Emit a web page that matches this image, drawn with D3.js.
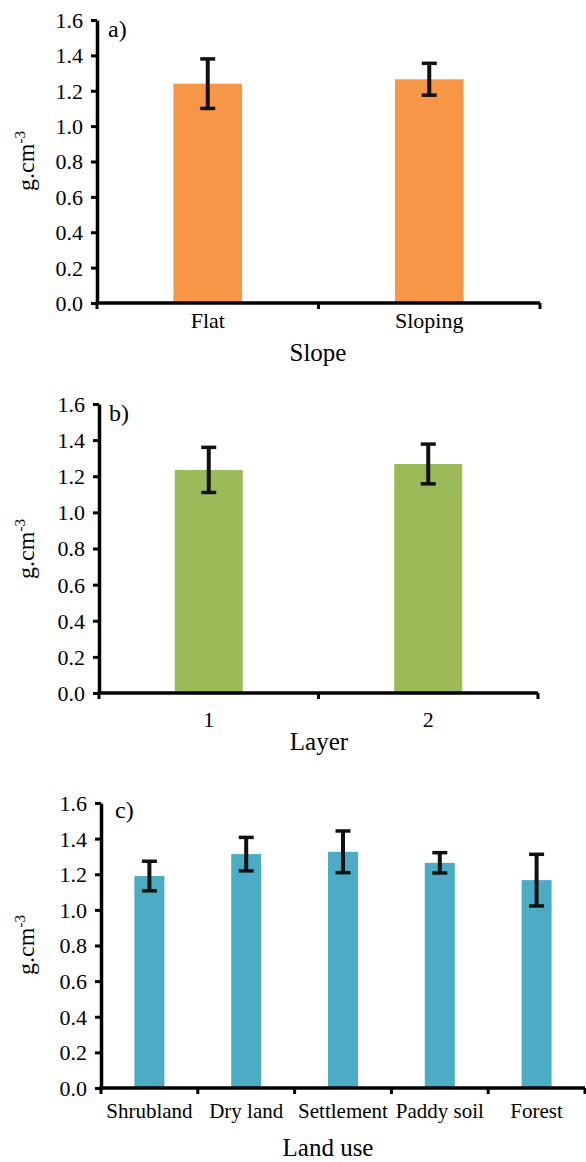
<!DOCTYPE html>
<html>
<head>
<meta charset="utf-8">
<script src="https://cdn.jsdelivr.net/npm/d3@7"></script>
<style>
  html, body { margin: 0; padding: 0; background: #fff; }
  svg { display: block; }
  svg text { font-family: "Liberation Serif", "Times New Roman", Times, "DejaVu Serif", serif !important; fill: #000; }
</style>
</head>
<body>
<script>
// ---- data ----
const slopeCategories = ["Flat", "Sloping"];
const slopeMeans = [1.24, 1.265];
const slopeErrors = [0.14, 0.09];

const layerCategories = ["1", "2"];
const layerMeans = [1.235, 1.268];
const layerErrors = [0.125, 0.11];

const landCategories = ["Shrubland", "Dry land", "Settlement", "Paddy soil", "Forest"];
const landMeans = [1.19, 1.313, 1.326, 1.264, 1.167];
const landErrors = [0.083, 0.094, 0.117, 0.057, 0.145];

const yTickValues = [0, 0.2, 0.4, 0.6, 0.8, 1.0, 1.2, 1.4, 1.6];
const yLabel = "g.cm";
const yLabelSup = "-3";

const panels = [
  { letter: "a)", title: "Slope", cats: slopeCategories, means: slopeMeans, errs: slopeErrors,
    color: "#F79646", x0: 97, x1: 540, yTop: 20, yBot: 303, tickBase: 328, tickFont: 22,
    titleX: 318, titleY: 361, labelCY: 161, letterX: 108, letterY: 37 },
  { letter: "b)", title: "Layer", cats: layerCategories, means: layerMeans, errs: layerErrors,
    color: "#9BBB59", x0: 99, x1: 538, yTop: 404, yBot: 693, tickBase: 727, tickFont: 22,
    titleX: 319, titleY: 750, labelCY: 549, letterX: 109, letterY: 421 },
  { letter: "c)", title: "Land use", cats: landCategories, means: landMeans, errs: landErrors,
    color: "#4BACC6", x0: 101, x1: 585, yTop: 803, yBot: 1088, tickBase: 1118, tickFont: 21,
    titleX: 328, titleY: 1156, labelCY: 945, letterX: 115, letterY: 818 }
];

const W = 586, H = 1162;
const svg = d3.select("body").append("svg").attr("width", W).attr("height", H);

panels.forEach(p => {
  const g = svg.append("g");
  const x = d3.scaleBand().domain(p.cats).range([p.x0, p.x1]).paddingInner(0).paddingOuter(0);
  const y = d3.scaleLinear().domain([0, 1.6]).range([p.yBot, p.yTop]);
  const barW = x.bandwidth() * 0.31;

  // bars
  g.selectAll("rect.bar").data(p.cats).enter().append("rect")
    .attr("x", (d) => x(d) + x.bandwidth() / 2 - barW / 2)
    .attr("y", (d, i) => y(p.means[i]))
    .attr("width", barW)
    .attr("height", (d, i) => y(0) - y(p.means[i]))
    .attr("fill", p.color);

  // error bars
  const capW = 15;
  p.cats.forEach((d, i) => {
    const cx = x(d) + x.bandwidth() / 2;
    const hi = y(p.means[i] + p.errs[i]);
    const lo = y(p.means[i] - p.errs[i]);
    g.append("line").attr("x1", cx).attr("x2", cx).attr("y1", hi).attr("y2", lo)
      .attr("stroke", "#111").attr("stroke-width", 4);
    [hi, lo].forEach(yy => {
      g.append("line").attr("x1", cx - capW / 2).attr("x2", cx + capW / 2)
        .attr("y1", yy).attr("y2", yy).attr("stroke", "#111").attr("stroke-width", 3.5);
    });
  });

  // y axis
  const yAxis = d3.axisLeft(y).tickValues(yTickValues).tickFormat(d3.format(".1f"))
    .tickSizeInner(6).tickSizeOuter(0).tickPadding(8);
  const ya = g.append("g").attr("transform", `translate(${p.x0},0)`).call(yAxis)
    .attr("font-family", null).attr("font-size", null);
  ya.select(".domain").attr("stroke", "#000").attr("stroke-width", 3.5);
  ya.selectAll(".tick line").attr("stroke", "#000").attr("stroke-width", 3);
  ya.selectAll(".tick text").style("font-size", "22px").attr("dy", "0.34em");

  // x axis (labels)
  const xAxis = d3.axisBottom(x).tickSize(0).tickPadding(0);
  const xa = g.append("g").attr("transform", `translate(0,${p.yBot})`).call(xAxis)
    .attr("font-family", null).attr("font-size", null);
  xa.select(".domain").remove();
  xa.selectAll(".tick text").style("font-size", p.tickFont + "px")
    .attr("dy", null).attr("y", p.tickBase - p.yBot);

  // x axis line
  g.append("line").attr("x1", p.x0 - 1.5).attr("x2", p.x1).attr("y1", p.yBot).attr("y2", p.yBot)
    .attr("stroke", "#000").attr("stroke-width", 3.5);
  // x boundary ticks
  const bounds = p.cats.map(c => x(c)).concat([x.range()[1]]);
  g.selectAll("line.xt").data(bounds).enter().append("line")
    .attr("x1", d => d).attr("x2", d => d)
    .attr("y1", p.yBot).attr("y2", p.yBot + 6)
    .attr("stroke", "#000").attr("stroke-width", 3);

  // panel letter
  g.append("text").attr("x", p.letterX).attr("y", p.letterY)
    .style("font-size", "24px").text(p.letter);

  // x title
  g.append("text").attr("x", p.titleX).attr("y", p.titleY)
    .attr("text-anchor", "middle").style("font-size", "25px").text(p.title);

  // y label
  const yl = g.append("text")
    .attr("transform", `translate(34,${p.labelCY}) rotate(-90)`)
    .attr("text-anchor", "middle").style("font-size", "24px");
  yl.append("tspan").text(yLabel);
  yl.append("tspan").attr("dy", -9).style("font-size", "15px").text(yLabelSup);
});
</script>
</body>
</html>
